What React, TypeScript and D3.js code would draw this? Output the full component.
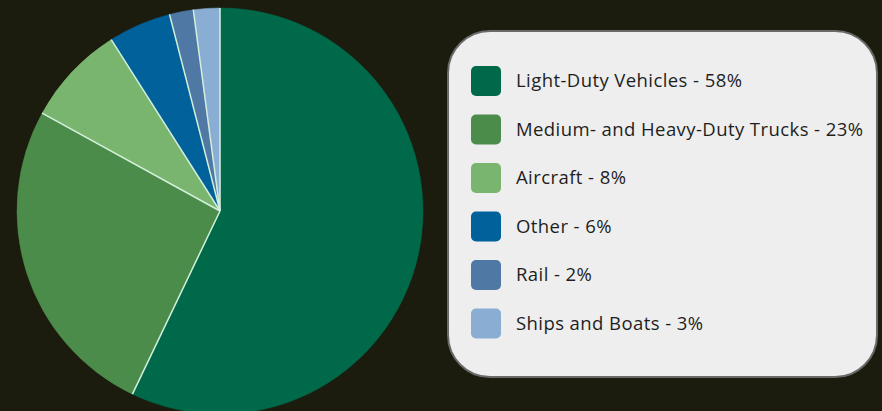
import React from "react";
import * as d3 from "d3";

const categories = [
  "Light-Duty Vehicles",
  "Medium- and Heavy-Duty Trucks",
  "Aircraft",
  "Other",
  "Rail",
  "Ships and Boats",
];
const sliceValues = [57.1, 25.9, 8.0, 5.0, 1.9, 2.1];
const legendPercents = ["58%", "23%", "8%", "6%", "2%", "3%"];
const colors = ["#00694a", "#4c8c4a", "#7ab56f", "#00619b", "#4f78a5", "#8aadd4"];

const W = 882;
const H = 411;

export default function App() {
  const cx = 220;
  const cy = 211;
  const r = 203;
  const pie = d3
    .pie<number>()
    .sort(null)
    .value((d) => d)
    .startAngle(0)
    .endAngle(2 * Math.PI);
  const arcs = pie(sliceValues);
  const arc = d3.arc<d3.PieArcDatum<number>>().innerRadius(0).outerRadius(r);

  const rowY = d3.scalePoint<number>().domain(d3.range(categories.length)).range([81, 323.5]);

  return (
    <div style={{ position: "fixed", left: 0, top: 0, width: W, height: H }}>
      <svg width={W} height={H} style={{ display: "block" }}>
        <rect x={0} y={0} width={W} height={H} fill="#1b1c0e" />
        <g transform={`translate(${cx},${cy})`}>
          {arcs.map((a, i) => (
            <path key={i} d={arc(a) || ""} fill={colors[i]} stroke={colors[i]} strokeWidth={0.5} />
          ))}
          {arcs.map((a, i) => (
            <line
              key={"l" + i}
              x1={0}
              y1={0}
              x2={r * Math.sin(a.startAngle)}
              y2={-r * Math.cos(a.startAngle)}
              stroke="#d2f0dc"
              strokeWidth={1.5}
            />
          ))}
        </g>
        <rect x={448} y={31} width={429} height={346} rx={42} ry={42} fill="#eeeeee" stroke="#6a6a6a" strokeWidth={2} />
        {categories.map((c, i) => {
          const y = rowY(i) as number;
          return (
            <g key={c}>
              <rect x={471} y={y - 15} width={30} height={30} rx={5} ry={5} fill={colors[i]} />
              <text
                x={516}
                y={y}
                dy="0.35em"
                fontFamily="'Open Sans', sans-serif"
                fontSize={18.5}
                letterSpacing={0.42}
                fill="#1e1e1e"
              >
                {`${c} - ${legendPercents[i]}`}
              </text>
            </g>
          );
        })}
      </svg>
    </div>
  );
}
